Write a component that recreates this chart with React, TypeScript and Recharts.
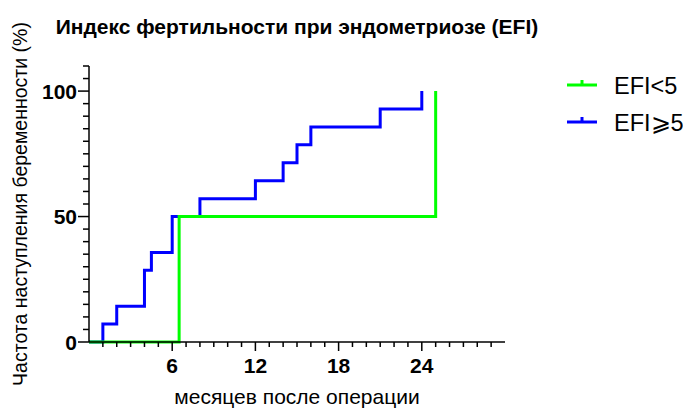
import { CartesianGrid, Line, LineChart, XAxis, YAxis } from "recharts";

// Kaplan–Meier style cumulative pregnancy rate (%) by month after surgery
const efiLowMonths = [0, 6.5, 25];
const efiLowRate = [0, 50, 100];

const efiHighMonths = [0, 1, 2, 4, 4.5, 6, 8, 12, 14, 15, 16, 21, 24];
const efiHighRate = [0, 7.14, 14.29, 28.57, 35.71, 50, 57.14, 64.29, 71.43, 78.57, 85.71, 92.86, 100];

const seriesNames = ["EFI<5", "EFI\u2A7E5"];
const seriesColors = ["#00ff00", "#0000ff"];

const xTicks = [1, 2, 3, 4, 5, 6, 7, 8, 9, 10, 11, 12, 13, 14, 15, 16, 17, 18, 19, 20, 21, 22, 23, 24, 25, 26, 27, 28, 29];
const xLabeled = [6, 12, 18, 24];
const yTicks = [0, 5, 10, 15, 20, 25, 30, 35, 40, 45, 50, 55, 60, 65, 70, 75, 80, 85, 90, 95, 100, 105, 110];
const yLabeled = [0, 50, 100];

const title = "Индекс фертильности при эндометриозе (EFI)";
const xTitle = "месяцев после операции";
const yTitle = "Частота наступления беременности (%)";

const toPoints = (xs: number[], ys: number[]) => xs.map((x, i) => ({ x, y: ys[i] }));
const lowData = toPoints(efiLowMonths, efiLowRate);
const highData = toPoints(efiHighMonths, efiHighRate);

const FONT = "'Liberation Sans', Arial, sans-serif";

const XTick = (props: any) => {
  const { x, y, payload } = props;
  const major = xLabeled.includes(payload.value);
  return (
    <g>
      <line x1={x} x2={x} y1={y} y2={y + (major ? 9 : 5)} stroke="#000" strokeWidth={1.5} />
      {major && (
        <text x={x} y={y + 31} textAnchor="middle" fontFamily={FONT} fontWeight="bold" fontSize={21} fill="#000">
          {payload.value}
        </text>
      )}
    </g>
  );
};

const YTick = (props: any) => {
  const { x, y, payload } = props;
  const major = yLabeled.includes(payload.value);
  return (
    <g>
      <line x1={x} x2={x - (major ? 11 : 6)} y1={y} y2={y} stroke="#000" strokeWidth={1.5} />
      {major && (
        <text x={x - 12} y={y + 7.5} textAnchor="end" fontFamily={FONT} fontWeight="bold" fontSize={21} fill="#000">
          {payload.value}
        </text>
      )}
    </g>
  );
};

const Legend = () => (
  <svg width={123} height={80} style={{ position: "absolute", left: 560, top: 62 }}>
    {seriesNames.map((name, i) => {
      const cy = 23 + i * 37;
      return (
        <g key={name}>
          <line x1={7} x2={37} y1={cy} y2={cy} stroke={seriesColors[i]} strokeWidth={3} />
          <line x1={22} x2={22} y1={cy} y2={cy - 5} stroke={seriesColors[i]} strokeWidth={3} />
          <text x={54} y={cy + 9} fontFamily={FONT} fontSize={23.5} fill="#000">
            {name}
          </text>
        </g>
      );
    })}
  </svg>
);

export default function App() {
  return (
    <div style={{ position: "absolute", left: 0, top: 0, width: 683, height: 408, background: "#fff" }}>
      <div
        style={{
          position: "absolute",
          left: 0,
          top: 15,
          width: 594,
          textAlign: "center",
          fontFamily: FONT,
          fontWeight: "bold",
          fontSize: 21,
          lineHeight: "24px",
        }}
      >
        {title}
      </div>
      <LineChart width={683} height={408} margin={{ top: 66, right: 178, bottom: 36, left: 29 }}>
        <CartesianGrid stroke="none" />
        <XAxis
          type="number"
          dataKey="x"
          domain={[0, 30]}
          ticks={xTicks}
          interval={0}
          tickSize={0}
          tickMargin={0}
          tickLine={false}
          height={30}
          axisLine={{ stroke: "#000", strokeWidth: 1.5 }}
          tick={XTick}
          label={({ viewBox }: any) => (
            <text
              x={viewBox.x + viewBox.width / 2}
              y={404}
              textAnchor="middle"
              fontFamily={FONT}
              fontSize={21}
              fill="#000"
            >
              {xTitle}
            </text>
          )}
        />
        <YAxis
          type="number"
          domain={[0, 110]}
          ticks={yTicks}
          interval={0}
          tickSize={0}
          tickMargin={0}
          tickLine={false}
          width={60}
          axisLine={{ stroke: "#000", strokeWidth: 1.5 }}
          tick={YTick}
          label={({ viewBox }: any) => {
            const cx = 27;
            const cy = viewBox.y + viewBox.height / 2;
            return (
              <text
                x={cx}
                y={cy}
                transform={`rotate(-90 ${cx} ${cy})`}
                textAnchor="middle"
                fontFamily={FONT}
                fontSize={19.5}
                fill="#000"
              >
                {yTitle}
              </text>
            );
          }}
        />
        <Line
          data={highData}
          dataKey="y"
          type="stepAfter"
          stroke={seriesColors[1]}
          strokeWidth={3}
          dot={false}
          isAnimationActive={false}
        />
        <Line
          data={lowData}
          dataKey="y"
          type="stepAfter"
          stroke={seriesColors[0]}
          strokeWidth={3}
          dot={false}
          isAnimationActive={false}
        />
      </LineChart>
      <Legend />
    </div>
  );
}
